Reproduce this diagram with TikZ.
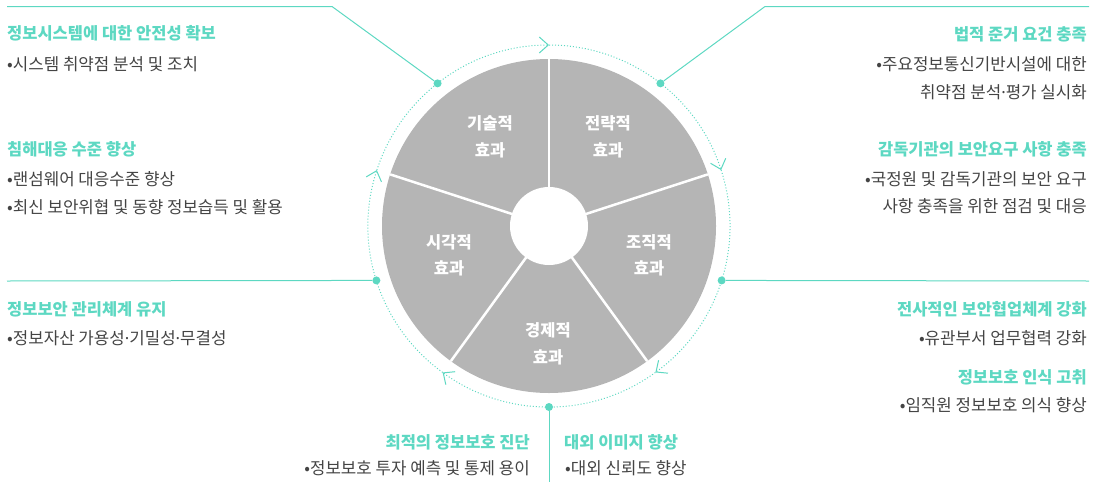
\documentclass[tikz,border=0pt]{standalone}
\usepackage{fontspec}
\setmainfont{Noto Sans CJK KR}
\newfontfamily\dotfont{Noto Sans}
\newcommand\mdot{{\dotfont ·}}
\usetikzlibrary{arrows.meta}
\definecolor{mint}{HTML}{5DD8C2}
\definecolor{pie}{HTML}{B5B5B5}
\definecolor{ink}{HTML}{444444}
\begin{document}
\begin{tikzpicture}[x=1pt,y=1pt,
  head/.style={inner sep=0pt,text=mint,font=\bfseries\fontsize{16.5}{18}\selectfont},
  item/.style={inner sep=0pt,text=ink,font=\fontsize{16.8}{18}\selectfont},
  part/.style={anchor=base,inner sep=0pt,text=white,font=\bfseries\fontsize{16.5}{18}\selectfont},
  dot/.style={circle,fill=mint,inner sep=0pt,minimum size=8pt},
  ring/.style={mint,dotted,line width=1pt,-{Straight Barb[length=9pt,width=16pt,line width=1pt]}},
  lead/.style={mint,line width=1pt}]
\useasboundingbox (0,0) rectangle (1105,-482);
\coordinate (c) at (549,-226);
\fill[pie] (c) circle[radius=167];
\draw[white,line width=2.5pt] (c) -- ++(90:167);
\draw[white,line width=2.5pt] (c) -- ++(18:167);
\draw[white,line width=2.5pt] (c) -- ++(-54:167);
\draw[white,line width=2.5pt] (c) -- ++(-126:167);
\draw[white,line width=2.5pt] (c) -- ++(162:167);
\fill[white] (c) circle[radius=39];
\draw[ring] (c) ++(90:181) arc[start angle=90,end angle=18,radius=181];
\draw[ring] (c) ++(18:181) arc[start angle=18,end angle=-54,radius=181];
\draw[ring] (c) ++(-54:181) arc[start angle=-54,end angle=-126,radius=181];
\draw[ring] (c) ++(-126:181) arc[start angle=-126,end angle=-198,radius=181];
\draw[ring] (c) ++(162:181) arc[start angle=162,end angle=90,radius=181];
\path (c) ++(128:181) node[dot] (d1) {};
\path (c) ++(52:181) node[dot] (d2) {};
\path (c) ++(197.5:181) node[dot] (d3) {};
\path (c) ++(-17.5:181) node[dot] (d4) {};
\path (c) ++(-90:181) node[dot] (d5) {};
\coordinate (k1) at (332,-6.5);
\coordinate (e1) at (7,-6.5);
\coordinate (k2) at (765,-6.5);
\coordinate (e2) at (1089,-6.5);
\coordinate (e3) at (7,-281);
\coordinate (e4) at (1089,-281);
\coordinate (e5) at (549,-482);
\draw[lead] (d1) -- (k1) -- (e1);
\draw[lead] (d2) -- (k2) -- (e2);
\draw[lead] (d3) -- (e3);
\draw[lead] (d4) -- (e4);
\draw[lead] (d5) -- (e5);
\node[part] (p1) at (490,-129.5) {기술적};
\node[part] (p1b) at (490,-156) {효과};
\node[part] (p2) at (608,-129.5) {전략적};
\node[part] (p2b) at (608,-156) {효과};
\node[part] (p3) at (649,-248) {조직적};
\node[part] (p3b) at (649,-274.5) {효과};
\node[part] (p4) at (449,-248) {시각적};
\node[part] (p4b) at (449,-274.5) {효과};
\node[part] (p5) at (548,-336.5) {경제적};
\node[part] (p5b) at (548,-363) {효과};
\node[head,anchor=base west] (h1) at (7,-39.5) {정보시스템에 대한 안전성 확보};
\node[item,anchor=base west] (b1) at (7,-70) {•시스템 취약점 분석 및 조치};
\node[head,anchor=base west] (h2) at (7,-155) {침해대응 수준 향상};
\node[item,anchor=base west] (b2) at (7,-185) {•랜섬웨어 대응수준 향상};
\node[item,anchor=base west] (b3) at (7,-213) {•최신 보안위협 및 동향 정보습득 및 활용};
\node[head,anchor=base west] (h3) at (7,-315) {정보보안 관리체계 유지};
\node[item,anchor=base west] (b4) at (7,-344) {•정보자산 가용성\mdot 기밀성\mdot 무결성};
\node[head,anchor=base east] (h4) at (1087,-40) {법적 준거 요건 충족};
\node[item,anchor=base east] (b5) at (1087,-70) {•주요정보통신기반시설에 대한};
\node[item,anchor=base east] (b5b) at (1087,-98.5) {취약점 분석\mdot 평가 실시화};
\node[head,anchor=base east] (h5) at (1087,-155) {감독기관의 보안요구 사항 충족};
\node[item,anchor=base east] (b6) at (1087,-185) {•국정원 및 감독기관의 보안 요구};
\node[item,anchor=base east] (b6b) at (1087,-212) {사항 충족을 위한 점검 및 대응};
\node[head,anchor=base east] (h6) at (1087,-315) {전사적인 보안협업체계 강화};
\node[item,anchor=base east] (b7) at (1087,-344) {•유관부서 업무협력 강화};
\node[head,anchor=base east] (h7) at (1087,-383) {정보보호 인식 고취};
\node[item,anchor=base east] (b8) at (1087,-411) {•임직원 정보보호 의식 향상};
\node[head,anchor=base east] (h8) at (530,-448) {최적의 정보보호 진단};
\node[item,anchor=base east] (b9) at (530,-474.5) {•정보보호 투자 예측 및 통제 용이};
\node[head,anchor=base west] (h9) at (564,-448) {대외 이미지 향상};
\node[item,anchor=base west] (b10) at (565,-474.5) {•대외 신뢰도 향상};
\end{tikzpicture}
\end{document}
